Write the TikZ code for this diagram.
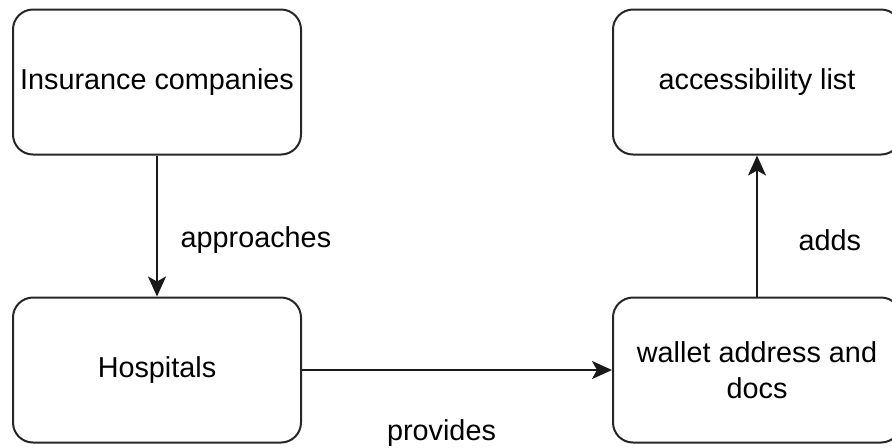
\documentclass[tikz,border=0pt]{standalone}
\usepackage{fontspec}
\setmainfont{Liberation Sans}
\usetikzlibrary{arrows.meta}

\begin{document}
\begin{tikzpicture}[x=0.5pt,y=-0.5pt,
  box/.style={draw=black!85,line width=1pt,rounded corners=10pt,
    minimum width=144pt,minimum height=72.5pt,align=center,
    font=\fontsize{14.4}{18}\selectfont},
  lbl/.style={font=\fontsize{14.4}{18}\selectfont},
  flow/.style={draw=black!90,line width=1pt,-{Stealth[length=10pt,width=9pt,inset=2.5pt]}}]
\clip (0,0) rectangle (892,447);
\node[box] (ins) at (157,82) {Insurance companies};
\node[box] (acc) at (757,82) {accessibility list};
\node[box] (hosp) at (157,370) {Hospitals};
\node[box] (wal) at (757,370) {wallet address and\\docs};
\path[flow] (ins) -- node[lbl,pos=0.6,right=8pt] {approaches} (hosp);
\path[flow] (hosp) -- node[lbl,pos=0.45,below=21pt] {provides} (wal);
\path[flow] (wal) -- node[lbl,pos=0.4,right=17pt] {adds} (acc);
\end{tikzpicture}
\end{document}
